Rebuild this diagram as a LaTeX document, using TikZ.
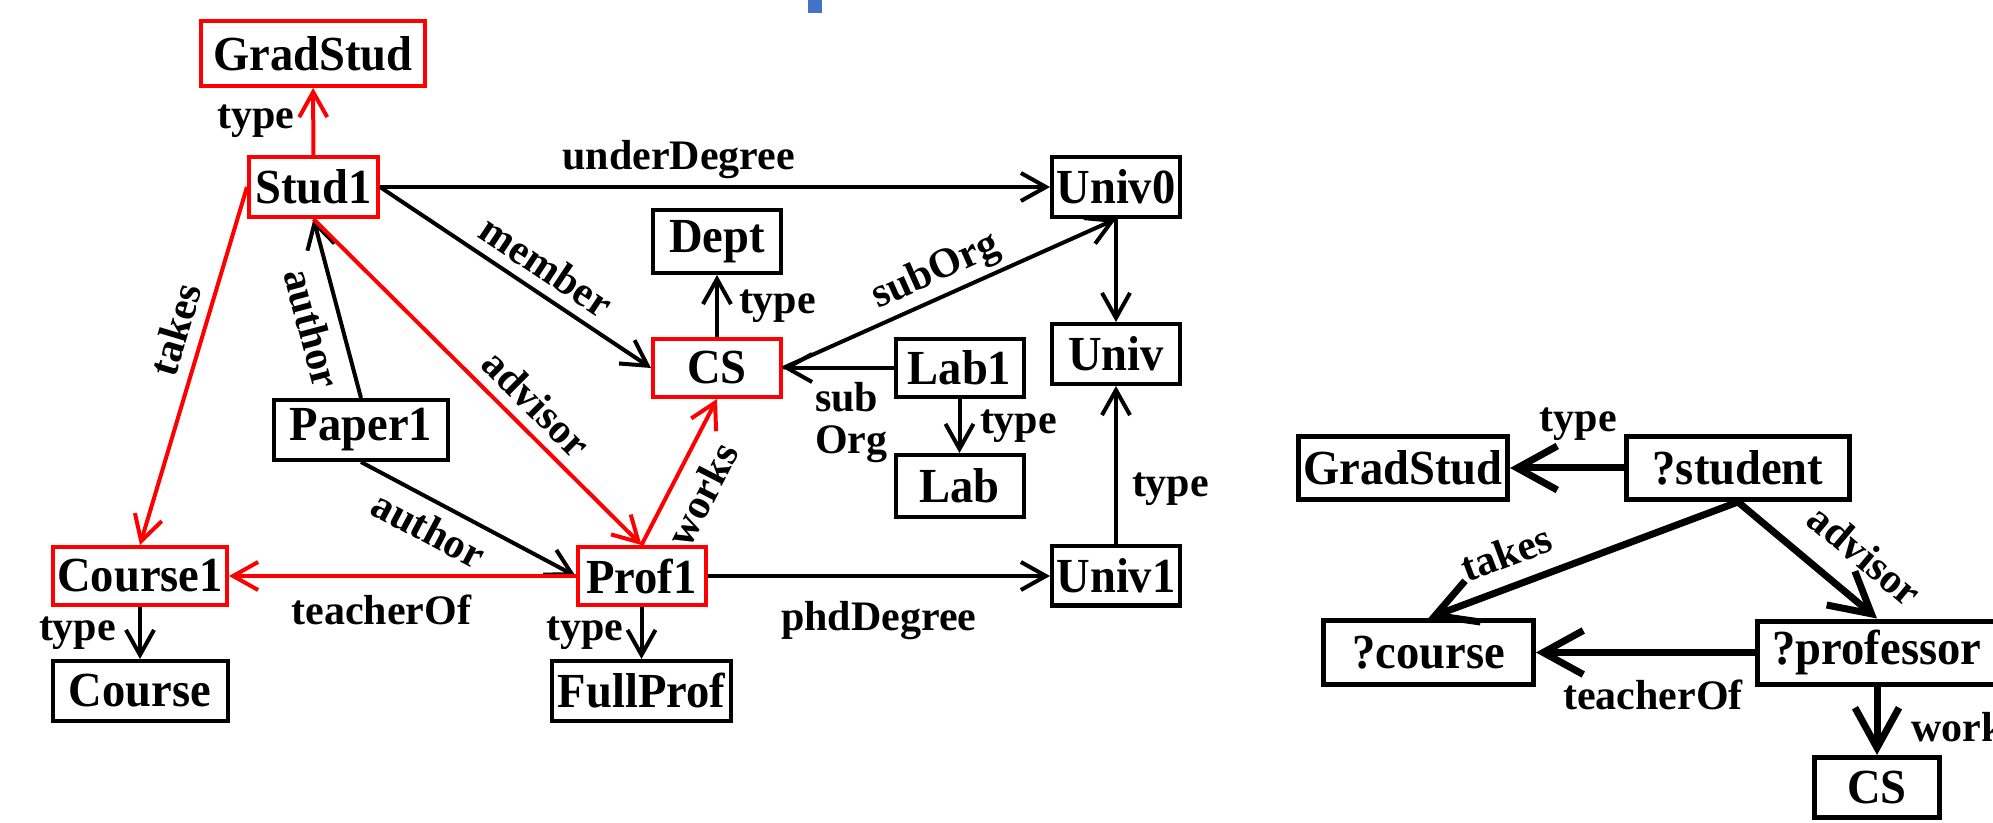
\documentclass[tikz,border=0pt]{standalone}
\usepackage{fontspec}
\setmainfont{Liberation Serif}
\newfontfamily\boxfont{Liberation Serif}[FakeStretch=0.95]
\usetikzlibrary{arrows.meta}

\definecolor{slideblue}{RGB}{68,114,196}

\begin{document}
\begin{tikzpicture}[x=0.5pt, y=-0.5pt,
    box/.style={draw, line width=2pt, inner sep=0pt, minimum width=64pt, minimum height=30pt,
      font=\boxfont\fontsize{24.5pt}{24.5pt}\selectfont\bfseries},
    hit/.style={box, draw=red},
    qbox/.style={box, line width=2.5pt, minimum height=31.5pt},
    lbl/.style={inner sep=1pt, text=black, font=\fontsize{21pt}{21pt}\selectfont\bfseries},
    link/.style={line width=2pt, -{Straight Barb[length=12.5pt, width=14pt]}},
    redlink/.style={link, red},
    qlink/.style={line width=3.5pt, -{Straight Barb[length=20pt, width=22pt]}}
  ]

  \useasboundingbox (0,0) rectangle (1993,823);

  % Small marker at the top edge
  \fill[slideblue] (808,0) rectangle (822,13);

  % Data graph: resources
  \node[hit, minimum width=112pt, minimum height=32.5pt] (gradstud) at (313,53.5) {GradStud};
  \node[hit, minimum width=64.5pt] (stud1) at (313.5,187) {Stud1};
  \node[box] (univ0) at (1116,187) {Univ0};
  \node[box, minimum height=31.5pt] (dept) at (717,241.5) {Dept};
  \node[hit, minimum height=29pt] (cs) at (717,368) {CS};
  \node[box, minimum height=29pt] (lab1) at (959.5,368) {Lab1};
  \node[box] (univ) at (1116,354) {Univ};
  \node[box, minimum width=87pt] (paper1) at (361,430) {Paper1};
  \node[box, minimum height=31pt] (lab) at (959.5,486) {Lab};
  \node[hit, minimum width=87pt, minimum height=29pt] (course1) at (140,576) {Course1};
  \node[hit, minimum height=29pt] (prof1) at (641.5,576) {Prof1};
  \node[box, minimum height=29.5pt] (univ1) at (1116,576) {Univ1};
  \node[box, minimum width=87.5pt] (course) at (140,691) {Course};
  \node[box, minimum width=89.5pt] (fullprof) at (641.5,691) {FullProf};

  % Data graph: black edges
  \draw[link] (stud1) -- node[lbl, above=2pt, pos=0.446] {underDegree} (univ0);
  \draw[link] (stud1.east) -- node[lbl, sloped, above=4pt, pos=0.56] {member} (cs.west);
  \draw[link] (paper1.north) -- node[lbl, sloped, below=5pt, pos=0.43] {author} (stud1.south);
  \draw[link] (paper1.south) -- node[lbl, sloped, below=4.25pt, pos=0.376] {author} (prof1.west);
  \draw[link] (cs) -- node[lbl, right=9pt] {type} (dept);
  \draw[link] (lab1) -- node[lbl, anchor=north west, align=left, inner sep=0pt, pos=0.727, yshift=-6pt] {sub\\Org} (cs);
  \draw[link] (cs.east) -- node[lbl, sloped, above=1pt, pos=0.49] {subOrg} (univ0.south);
  \draw[link] (univ0) -- (univ);
  \draw[link] (lab1) -- node[lbl, right=8.25pt] {type} (lab);
  \draw[link] (univ1) -- node[lbl, right=6pt, pos=0.35] {type} (univ);
  \draw[link] (prof1) -- node[lbl, below=10.5pt] {phdDegree} (univ1);
  \draw[link] (course1) -- node[lbl, left=10pt] {type} (course);
  \draw[link] (prof1) -- node[lbl, left=7.25pt] {type} (fullprof);

  % Data graph: matched edges in red
  \draw[redlink] (stud1) -- node[lbl, left=7.5pt] {type} (gradstud);
  \draw[redlink] (stud1.west) -- node[lbl, sloped, above=4.5pt, pos=0.42] {takes} (course1.north);
  \draw[redlink] (stud1.south) -- node[lbl, sloped, above=4pt, pos=0.623] {advisor} (prof1.north);
  \draw[redlink] (prof1) -- node[lbl, below=7.5pt, pos=0.56] {teacherOf} (course1);
  \draw[redlink] (prof1.north) -- node[lbl, sloped, below=6pt, pos=0.443] {works} (cs.south);

  % Query graph
  \node[qbox, minimum width=104.5pt] (qgrad) at (1403,468) {GradStud};
  \node[qbox, minimum width=111.5pt] (qstudent) at (1738,468) {?student};
  \node[qbox, minimum width=105pt, minimum height=32pt] (qcourse) at (1428.5,652.5) {?course};
  \node[qbox, minimum width=119.5pt] (qprof) at (1877,652.5) {?professor};
  \node[qbox, minimum width=62.5pt, minimum height=30pt] (qcs) at (1877,787.5) {CS};

  \draw[qlink] (qstudent) -- node[lbl, above=11pt, pos=0.4] {type} (qgrad);
  \draw[qlink] (qstudent.south) -- node[lbl, sloped, above=6.8pt, pos=0.711] {takes} (qcourse.north);
  \draw[qlink] (qstudent.south) -- node[lbl, sloped, above=10.4pt, pos=0.725] {advisor} (qprof.north);
  \draw[qlink] (qprof) -- node[lbl, below=11pt, pos=0.466] {teacherOf} (qcourse);
  \draw[qlink] (qprof) -- node[lbl, right=14.5pt, pos=0.59] {works} (qcs);

\end{tikzpicture}
\end{document}
